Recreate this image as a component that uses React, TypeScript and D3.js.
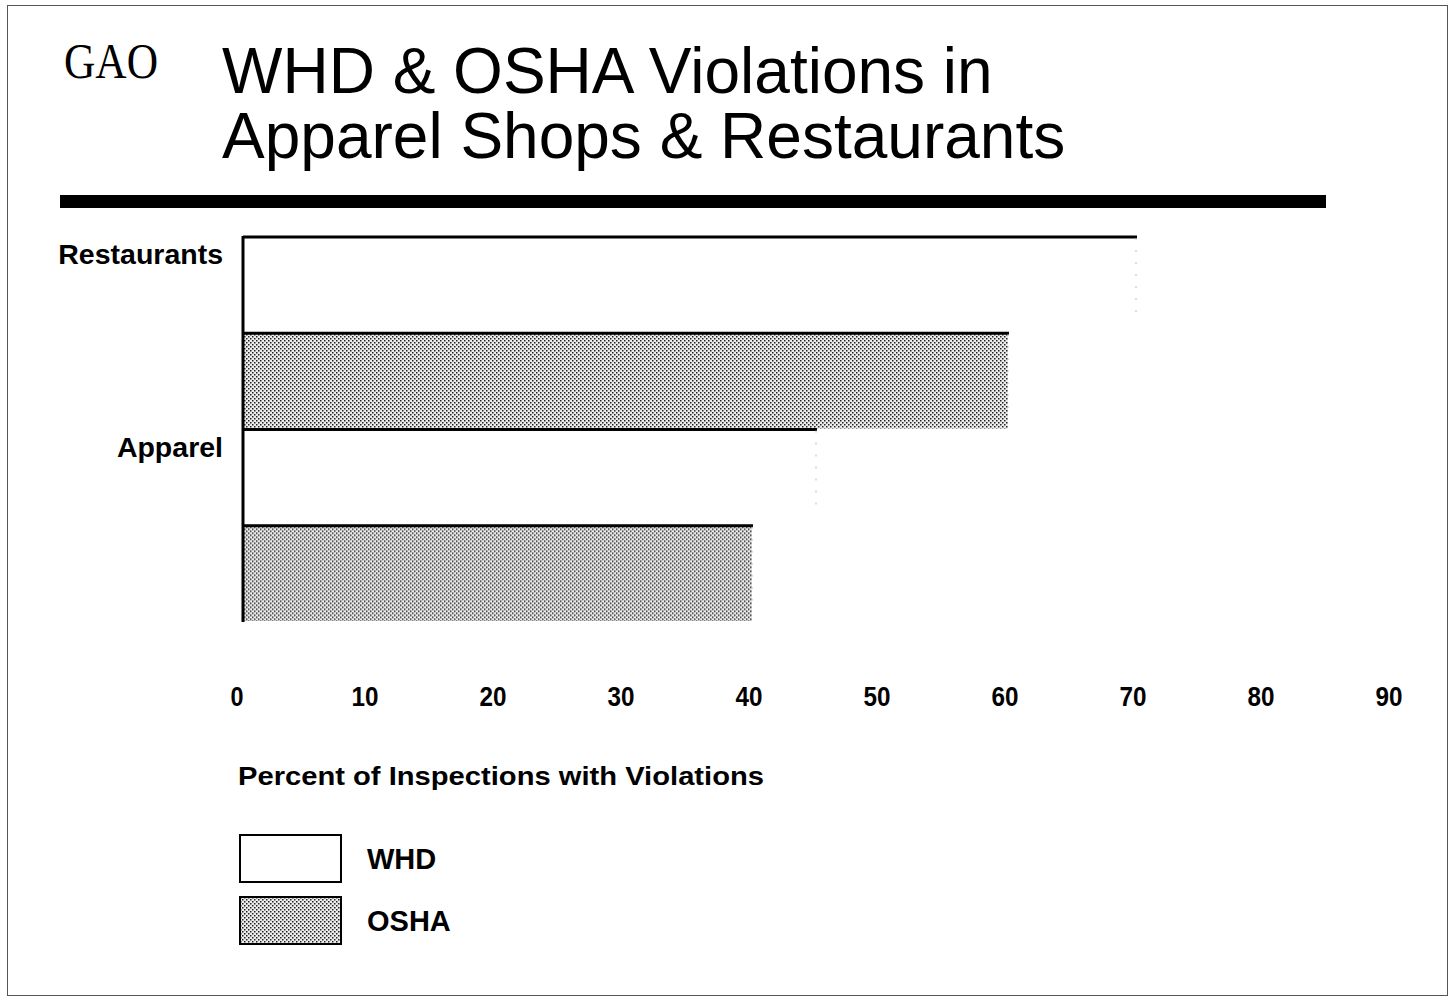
import React, { useEffect, useRef } from "react";
import * as d3 from "d3";

const categories = ["Restaurants", "Apparel"];
const seriesNames = ["WHD", "OSHA"];
const whdValues = [70, 45];
const oshaValues = [60, 40];
const tickValues = [0, 10, 20, 30, 40, 50, 60, 70, 80, 90];

const W = 1456;
const H = 1002;
const SANS = "'Liberation Sans', Arial, Helvetica, sans-serif";

const draw = (node: SVGSVGElement) => {
  const svg = d3.select(node);
  svg.selectAll("*").remove();

  const defs = svg.append("defs");
  const pat = defs
    .append("pattern")
    .attr("id", "stipple")
    .attr("width", 4)
    .attr("height", 4)
    .attr("patternUnits", "userSpaceOnUse");
  pat.append("rect").attr("width", 4).attr("height", 4).attr("fill", "#ececec");
  pat.append("rect").attr("x", 0).attr("y", 0).attr("width", 1.5).attr("height", 1.5).attr("fill", "#222");
  pat.append("rect").attr("x", 2).attr("y", 2).attr("width", 1.5).attr("height", 1.5).attr("fill", "#222");

  // page frame
  svg
    .append("rect")
    .attr("x", 7.5)
    .attr("y", 5.5)
    .attr("width", 1440)
    .attr("height", 990)
    .attr("fill", "none")
    .attr("stroke", "#555")
    .attr("stroke-width", 1);

  // header
  svg
    .append("text")
    .attr("x", 64)
    .attr("y", 78)
    .attr("font-family", "'Liberation Serif', 'Times New Roman', serif")
    .attr("font-size", 50)
    .attr("textLength", 94)
    .attr("lengthAdjust", "spacingAndGlyphs")
    .text("GAO");
  const titleLines = ["WHD & OSHA Violations in", "Apparel Shops & Restaurants"];
  svg
    .selectAll("text.title")
    .data(titleLines)
    .enter()
    .append("text")
    .attr("class", "title")
    .attr("x", 222)
    .attr("y", (_, i) => 93 + i * 65)
    .attr("font-family", SANS)
    .attr("font-size", 64)
    .text(d => d);
  svg
    .append("rect")
    .attr("x", 60)
    .attr("y", 195)
    .attr("width", 1266)
    .attr("height", 13)
    .attr("fill", "#000");

  // scales
  const x = d3.scaleLinear().domain([0, 90]).range([240, 1392]);
  const y0 = d3.scaleBand().domain(categories).range([236, 621]).padding(0);
  const y1 = d3.scaleBand().domain(seriesNames).range([0, y0.bandwidth()]).padding(0);

  const rows = categories.map((c, i) => ({
    cat: c,
    items: [
      { s: "WHD", v: whdValues[i] },
      { s: "OSHA", v: oshaValues[i] }
    ]
  }));

  const g = svg
    .selectAll("g.cat")
    .data(rows)
    .enter()
    .append("g")
    .attr("class", "cat")
    .attr("transform", d => "translate(0," + y0(d.cat) + ")");

  g.selectAll("rect.bar")
    .data(d => d.items)
    .enter()
    .append("rect")
    .attr("class", "bar")
    .attr("x", x(0) + 3)
    .attr("y", d => y1(d.s) as number)
    .attr("width", d => x(d.v) - x(0) - 3)
    .attr("height", y1.bandwidth())
    .attr("fill", d => (d.s === "WHD" ? "#fff" : "url(#stipple)"));

  // top edges of bars
  g.selectAll("line.edge")
    .data(d => d.items)
    .enter()
    .append("line")
    .attr("class", "edge")
    .attr("x1", x(0) + 3)
    .attr("x2", d => x(d.v) + 1)
    .attr("y1", d => (y1(d.s) as number) + 1)
    .attr("y2", d => (y1(d.s) as number) + 1)
    .attr("stroke", "#000")
    .attr("stroke-width", 3);

  // faint right edges of bars
  g.selectAll("line.redge")
    .data(d => d.items)
    .enter()
    .append("line")
    .attr("class", "redge")
    .attr("x1", d => x(d.v))
    .attr("x2", d => x(d.v))
    .attr("y1", d => (y1(d.s) as number) + 2)
    .attr("y2", d => (y1(d.s) as number) + y1.bandwidth() * 0.8)
    .attr("stroke", "#bbb")
    .attr("stroke-width", 1)
    .attr("stroke-dasharray", "2 10");

  // category labels
  g.append("text")
    .attr("x", 223)
    .attr("y", 28)
    .attr("text-anchor", "end")
    .attr("font-family", SANS)
    .attr("font-weight", "bold")
    .attr("font-size", 28.5)
    .text(d => d.cat);

  // axis line
  svg
    .append("line")
    .attr("x1", x(0) + 3)
    .attr("x2", x(0) + 3)
    .attr("y1", 236)
    .attr("y2", 622)
    .attr("stroke", "#000")
    .attr("stroke-width", 3);

  // tick labels
  svg
    .selectAll("text.tick")
    .data(tickValues)
    .enter()
    .append("text")
    .attr("class", "tick")
    .attr("x", d => x(d) - 3)
    .attr("y", 706)
    .attr("text-anchor", "middle")
    .attr("font-family", SANS)
    .attr("font-weight", "bold")
    .attr("font-size", 28)
    .attr("textLength", d => (d === 0 ? 13 : 27))
    .attr("lengthAdjust", "spacingAndGlyphs")
    .text(d => String(d));

  svg
    .append("text")
    .attr("x", 238)
    .attr("y", 785)
    .attr("font-family", SANS)
    .attr("font-weight", "bold")
    .attr("font-size", 26)
    .attr("textLength", 526)
    .attr("lengthAdjust", "spacingAndGlyphs")
    .text("Percent of Inspections with Violations");

  // legend
  const leg = svg
    .selectAll("g.leg")
    .data(seriesNames)
    .enter()
    .append("g")
    .attr("class", "leg")
    .attr("transform", (_, i) => "translate(240," + (835 + i * 62) + ")");
  leg
    .append("rect")
    .attr("width", 101)
    .attr("height", 47)
    .attr("fill", d => (d === "WHD" ? "#fff" : "url(#stipple)"))
    .attr("stroke", "#000")
    .attr("stroke-width", 2);
  leg
    .append("text")
    .attr("x", 127)
    .attr("y", 34)
    .attr("font-family", SANS)
    .attr("font-weight", "bold")
    .attr("font-size", 29)
    .text(d => d);
};

const App = () => {
  const ref = useRef<SVGSVGElement>(null);
  useEffect(() => {
    if (ref.current) draw(ref.current);
  }, []);
  return (
    <svg
      ref={ref}
      width={W}
      height={H}
      style={{ position: "absolute", left: 0, top: 0, background: "#fff" }}
    />
  );
};

export default App;
